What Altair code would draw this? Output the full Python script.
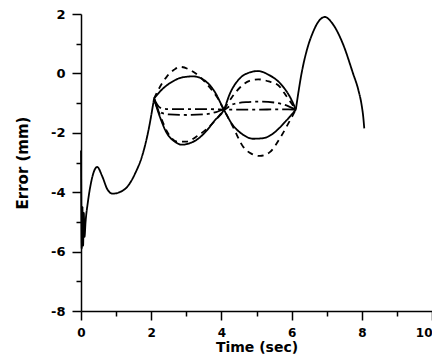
import altair as alt
import pandas as pd

# Common solid trace before and after the branching region
common1_t = [0, 0.02, 0.04, 0.06, 0.08, 0.10, 0.13, 0.20, 0.30, 0.46, 0.60, 0.75, 0.90, 1.10, 1.33, 1.55, 1.75, 1.95, 2.08]
common1_y = [-2.6, -5.9, -4.5, -5.8, -4.7, -5.5, -5.0, -4.3, -3.6, -3.15, -3.45, -3.9, -4.05, -4.0, -3.8, -3.35, -2.75, -1.75, -0.85]

common2_t = [6.12, 6.30, 6.45, 6.60, 6.75, 6.95, 7.15, 7.46, 7.75, 7.90, 8.00, 8.04, 8.07]
common2_y = [-1.22, 0.10, 0.85, 1.36, 1.72, 1.90, 1.70, 1.00, 0.00, -0.55, -1.10, -1.45, -1.85]

# Branches between t=2 and t=6
solidA_t = [2.08, 2.30, 2.60, 2.90, 3.20, 3.50, 3.80, 4.07, 4.30, 4.60, 4.90, 5.20, 5.50, 5.80, 6.12]
solidA_y = [-0.85, -0.55, -0.28, -0.13, -0.10, -0.22, -0.60, -1.22, -1.70, -2.05, -2.20, -2.18, -2.00, -1.65, -1.22]

solidB_t = [2.08, 2.25, 2.44, 2.65, 2.88, 3.10, 3.36, 3.60, 3.80, 4.07, 4.25, 4.53, 4.80, 5.04, 5.35, 5.67, 6.00, 6.12]
solidB_y = [-0.85, -1.47, -2.00, -2.28, -2.40, -2.35, -2.18, -1.90, -1.60, -1.22, -0.66, -0.16, 0.03, 0.08, -0.05, -0.33, -0.90, -1.22]

dashedA_t = [2.08, 2.20, 2.45, 2.65, 2.82, 3.05, 3.39, 3.65, 3.87, 4.07, 4.33, 4.62, 4.85, 5.10, 5.38, 5.67, 5.90, 6.12]
dashedA_y = [-0.85, -0.56, -0.10, 0.12, 0.22, 0.15, -0.12, -0.45, -0.79, -1.22, -1.80, -2.47, -2.70, -2.78, -2.65, -2.18, -1.70, -1.22]

dashedB_t = [2.08, 2.25, 2.45, 2.75, 3.00, 3.30, 3.60, 3.85, 4.07, 4.30, 4.55, 4.80, 5.05, 5.35, 5.62, 5.86, 6.12]
dashedB_y = [-0.85, -1.40, -1.95, -2.30, -2.30, -2.12, -1.85, -1.55, -1.22, -0.80, -0.45, -0.25, -0.20, -0.27, -0.40, -0.78, -1.22]

dashdotA_t = [2.08, 2.25, 2.50, 3.00, 3.50, 3.85, 4.07, 4.30, 4.70, 5.10, 5.50, 5.90, 6.12]
dashdotA_y = [-0.85, -1.15, -1.20, -1.20, -1.20, -1.21, -1.22, -1.05, -0.97, -0.95, -0.98, -1.10, -1.22]

dashdotB_t = [2.08, 2.25, 2.50, 3.00, 3.50, 3.85, 4.07, 4.30, 4.70, 5.10, 5.50, 5.90, 6.12]
dashdotB_y = [-0.85, -1.30, -1.38, -1.40, -1.38, -1.30, -1.22, -1.22, -1.22, -1.22, -1.21, -1.21, -1.22]

x_ticks = list(range(0, 11))
y_ticks = list(range(-8, 3))

series = [
    ("common1", "solid", common1_t, common1_y),
    ("common2", "solid", common2_t, common2_y),
    ("solidA", "solid", solidA_t, solidA_y),
    ("solidB", "solid", solidB_t, solidB_y),
    ("dashedA", "dashed", dashedA_t, dashedA_y),
    ("dashedB", "dashed", dashedB_t, dashedB_y),
    ("dashdotA", "dashdot", dashdotA_t, dashdotA_y),
    ("dashdotB", "dashdot", dashdotB_t, dashdotB_y),
]
rows = []
for name, style, ts, ys in series:
    for t, y in zip(ts, ys):
        rows.append({"series": name, "style": style, "t": t, "y": y})
df = pd.DataFrame(rows)

FONT = "DejaVu Sans"
label_expr = "datum.value % 2 === 0 ? '' + datum.value : ''"
tick_size = {"condition": {"test": "datum.value % 2 === 0", "value": 9}, "value": 5}

x_axis = alt.Axis(
    values=x_ticks, labelExpr=label_expr, tickSize=tick_size, grid=False,
    domainColor="black", domainWidth=1.5, tickColor="black", tickWidth=1.5,
    labelFont=FONT, labelFontWeight="bold", labelFontSize=12, labelColor="black",
    labelPadding=7, labelFlush=False,
    labelAlign={"condition": {"test": "datum.value === 10", "value": "right"}, "value": "center"},
    title="Time (sec)", titleFont=FONT, titleFontWeight="bold",
    titleFontSize=14, titleColor="black", titleY=40, titleBaseline="alphabetic",
)
y_axis = alt.Axis(
    values=y_ticks, labelExpr=label_expr, tickSize=tick_size, grid=False,
    domainColor="black", domainWidth=1.5, tickColor="black", tickWidth=1.5,
    labelFont=FONT, labelFontWeight="bold", labelFontSize=13, labelColor="black",
    labelPadding=7, title="Error (mm)", titleFont=FONT, titleFontWeight="bold",
    titleFontSize=15, titleColor="black", titlePadding=20, labelFlush=False,
)

chart = alt.Chart(df).mark_line(color="black", strokeWidth=1.8, interpolate="monotone").encode(
    x=alt.X("t:Q", scale=alt.Scale(domain=[0, 10], nice=False, zero=False), axis=x_axis),
    y=alt.Y("y:Q", scale=alt.Scale(domain=[-8, 2], nice=False, zero=False), axis=y_axis),
    detail="series:N",
    strokeDash=alt.StrokeDash(
        "style:N",
        scale=alt.Scale(domain=["solid", "dashed", "dashdot"], range=[[1, 0], [6, 5], [12, 4, 3, 4]]),
        legend=None,
    ),
).properties(
    width=351, height=297,
    autosize=alt.AutoSizeParams(type="none"),
    padding={"left": 73, "top": 6, "right": 0, "bottom": 44},
).configure_view(stroke=None)

chart.save("out.html", embed_options={"renderer": "svg", "actions": False})
